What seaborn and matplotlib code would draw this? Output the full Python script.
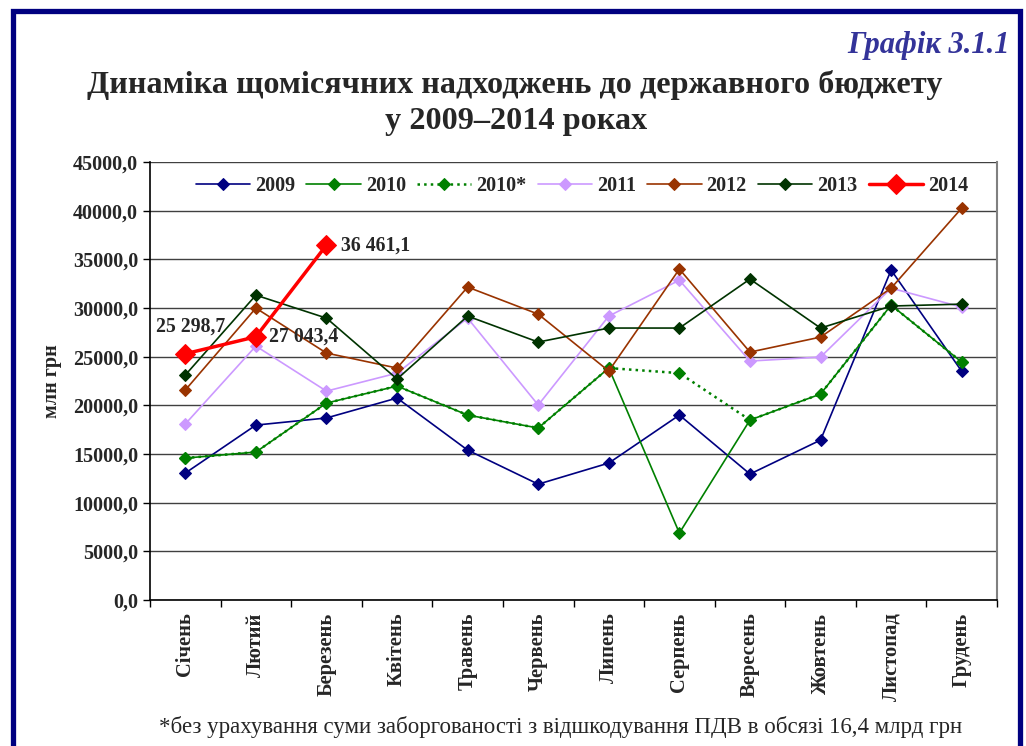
import matplotlib
matplotlib.use("Agg")
import matplotlib.pyplot as plt
import seaborn as sns
import numpy as np
import pandas as pd
from matplotlib.ticker import FuncFormatter, FixedLocator
from matplotlib.patches import Rectangle

# Місяці
misyatsi = ['Січень', 'Лютий', 'Березень', 'Квітень', 'Травень', 'Червень',
            'Липень', 'Серпень', 'Вересень', 'Жовтень', 'Листопад', 'Грудень']

# Надходження, млн грн
r2009 = [13040, 17970, 18700, 20750, 15400, 11900, 14070, 19000, 12940, 16430, 33900, 23500]
r2010 = [14580, 15200, 20230, 21980, 19000, 17670, 23830, 6880, 18490, 21160, 30300, 24440]
r2010z = [14580, 15200, 20230, 21980, 19000, 17670, 23830, 23310, 18490, 21160, 30300, 24440]
r2011 = [18080, 26090, 21460, 23310, 28960, 20030, 29170, 32860, 24550, 24960, 32040, 30090]
r2012 = [21570, 29990, 25370, 23830, 32150, 29370, 23520, 34000, 25470, 27010, 32040, 40260]
r2013 = [23110, 31320, 28960, 22700, 29170, 26500, 27940, 27940, 32970, 27940, 30200, 30400]
r2014 = [25298.7, 27043.4, 36461.1]
pidpysy_2014 = ['25 298,7', '27 043,4', '36 461,1']

serii = [
    ('2009', r2009, '#000080', '-', 1.2, 6.5),
    ('2010', r2010, '#008000', '-', 1.2, 6.5),
    ('2010*', r2010z, '#008000', ':', 1.8, 6.5),
    ('2011', r2011, '#CC99FF', '-', 1.2, 6.5),
    ('2012', r2012, '#993300', '-', 1.2, 6.5),
    ('2013', r2013, '#003300', '-', 1.2, 6.5),
    ('2014', r2014, '#FF0000', '-', 2.5, 10),
]

sns.set_style("white")
plt.rcParams['font.family'] = ['Liberation Serif', 'DejaVu Serif']

fig = plt.figure(figsize=(10.26, 7.46), dpi=100)
ax = fig.add_axes([150 / 1026, 1 - 600 / 746, 847 / 1026, 438 / 746])

for nazva, znach, kolir, styl, tovsh, mrk in serii:
    df = pd.DataFrame({'pos': np.arange(len(znach)), 'v': znach})
    sns.lineplot(data=df, x='pos', y='v', ax=ax, color=kolir, linestyle=styl,
                 linewidth=tovsh, marker='D', markersize=mrk, markeredgecolor=kolir,
                 markerfacecolor=kolir, label=nazva, estimator=None, sort=False)

# підписи значень 2014
ax.text(0.07, 28040, pidpysy_2014[0], ha='center', va='center', fontsize=14.2, fontweight='bold')
ax.text(1.18, 27043.4, pidpysy_2014[1], ha='left', va='center', fontsize=14.2, fontweight='bold')
ax.text(2.2, 36461.1, pidpysy_2014[2], ha='left', va='center', fontsize=14.2, fontweight='bold')

ax.set_xlim(-0.5, 11.5)
ax.set_ylim(0, 45000)
ax.yaxis.set_major_locator(FixedLocator(np.arange(0, 45001, 5000)))
ax.yaxis.set_major_formatter(FuncFormatter(lambda v, p: f"{v:.1f}".replace('.', ',')))
ax.grid(axis='y', color='#404040', linewidth=1)
ax.set_axisbelow(True)

ax.set_xticks(np.arange(-0.5, 12, 1))
ax.set_xticklabels([])
ax.set_xticks(np.arange(12), minor=True)
ax.set_xticklabels(misyatsi, minor=True, rotation=90, fontsize=14.8, fontweight='bold')
ax.tick_params(axis='x', which='major', direction='out', length=5, width=1, color='black', bottom=True)
ax.tick_params(axis='x', which='minor', length=0, pad=9)
ax.tick_params(axis='y', direction='out', length=5, width=1, color='black', left=True, labelsize=14.5)
for lbl in ax.get_yticklabels():
    lbl.set_fontweight('bold')

ax.set_xlabel('')
ax.set_ylabel('млн грн', fontsize=14.5, fontweight='bold', labelpad=8)

for s in ['left', 'bottom']:
    ax.spines[s].set_color('black')
    ax.spines[s].set_linewidth(1.2)
ax.spines['top'].set_visible(False)
ax.spines['right'].set_color('#808080')
ax.spines['right'].set_linewidth(1.5)

leg = ax.legend(loc='center', bbox_to_anchor=(0.51, 0.946), ncol=7, frameon=False,
                prop={'weight': 'bold', 'size': 14.5}, handlelength=2.7, columnspacing=0.55,
                handletextpad=0.25)

fig.text(515 / 1026, 1 - 85 / 746, 'Динаміка щомісячних надходжень до державного бюджету',
         ha='center', va='center', fontsize=23.2, fontweight='bold')
fig.text(516 / 1026, 1 - 121 / 746, 'у 2009–2014 роках',
         ha='center', va='center', fontsize=23.2, fontweight='bold')
fig.text(1010 / 1026, 1 - 45 / 746, 'Графік 3.1.1', ha='right', va='center',
         fontsize=22, fontweight='bold', style='italic', color='#333399')
fig.text(561 / 1026, 1 - 727 / 746,
         '*без урахування суми заборгованості з відшкодування ПДВ в обсязі 16,4 млрд грн',
         ha='center', va='center', fontsize=16.5)

# синя рамка
fig.patches.append(Rectangle((12.5 / 1026, -0.05), 1007 / 1026, 1.05 - 10.5 / 746,
                             transform=fig.transFigure, fill=False,
                             edgecolor='#000080', linewidth=3.8))

fig.savefig('out.png', dpi=100)
